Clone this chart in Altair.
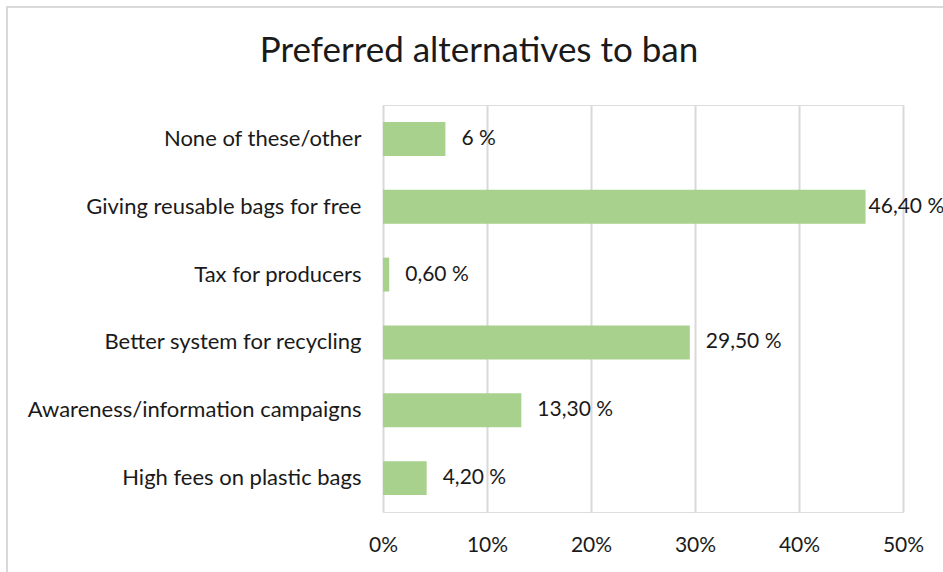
import altair as alt
import pandas as pd

categories = [
    "None of these/other",
    "Giving reusable bags for free",
    "Tax for producers",
    "Better system for recycling",
    "Awareness/information campaigns",
    "High fees on plastic bags",
]
values = [6.0, 46.4, 0.6, 29.5, 13.3, 4.2]
labels = ["6 %", "46,40 %", "0,60 %", "29,50 %", "13,30 %", "4,20 %"]
x_ticks = [0, 10, 20, 30, 40, 50]
title_text = "Preferred alternatives to ban"

df = pd.DataFrame({"category": categories, "value": values, "label": labels})

FONT = "Lato"
TXT = "#1a1a1a"

y_enc = alt.Y("category:N", sort=categories, title=None,
              scale=alt.Scale(paddingInner=0.5, paddingOuter=0.25),
              axis=alt.Axis(domain=False, ticks=False, labelFontSize=22, labelFont=FONT,
                            labelColor=TXT, labelPadding=22, labelLimit=400))
x_enc = alt.X("value:Q", title=None,
              scale=alt.Scale(domain=[0, 50], nice=False),
              axis=alt.Axis(values=x_ticks, domain=False, ticks=False, grid=True,
                            gridColor="#d9d9d9", gridWidth=2, labelFlush=False,
                            labelExpr="datum.value + '%'", labelFontSize=21, labelFont=FONT,
                            labelColor=TXT, labelPadding=22))

base = alt.Chart(df)

frame = alt.Chart(pd.DataFrame({"a": [0]})).mark_rect(
    fill=None, stroke="#d9d9d9", strokeWidth=2
).encode(x=alt.value(-376), x2=alt.value(620), y=alt.value(-98), y2=alt.value(520))

title = alt.Chart(pd.DataFrame({"t": [title_text]})).mark_text(
    fontSize=35, font=FONT, color=TXT, align="center", baseline="alphabetic"
).encode(x=alt.value(96), y=alt.value(-43), text="t:N")

bars = base.mark_bar(color="#a9d18e").encode(x=x_enc, y=y_enc)

text_normal = base.transform_filter("datum.value < 40").mark_text(
    align="left", baseline="middle", dx=16, fontSize=21, font=FONT, color=TXT
).encode(x="value:Q", y=alt.Y("category:N", sort=categories), text="label:N")

text_big = base.transform_filter("datum.value >= 40").mark_text(
    align="left", baseline="middle", dx=3, fontSize=21, font=FONT, color=TXT
).encode(x="value:Q", y=alt.Y("category:N", sort=categories), text="label:N")

chart = alt.layer(frame, title, bars, text_normal, text_big).properties(
    width=520,
    height=407,
    autosize=alt.AutoSizeParams(type="none"),
    padding={"left": 383, "top": 105, "right": 40, "bottom": 60},
).configure_view(stroke=None).configure(background="white")

chart.save("out.html", embed_options={"renderer": "svg", "actions": False})
